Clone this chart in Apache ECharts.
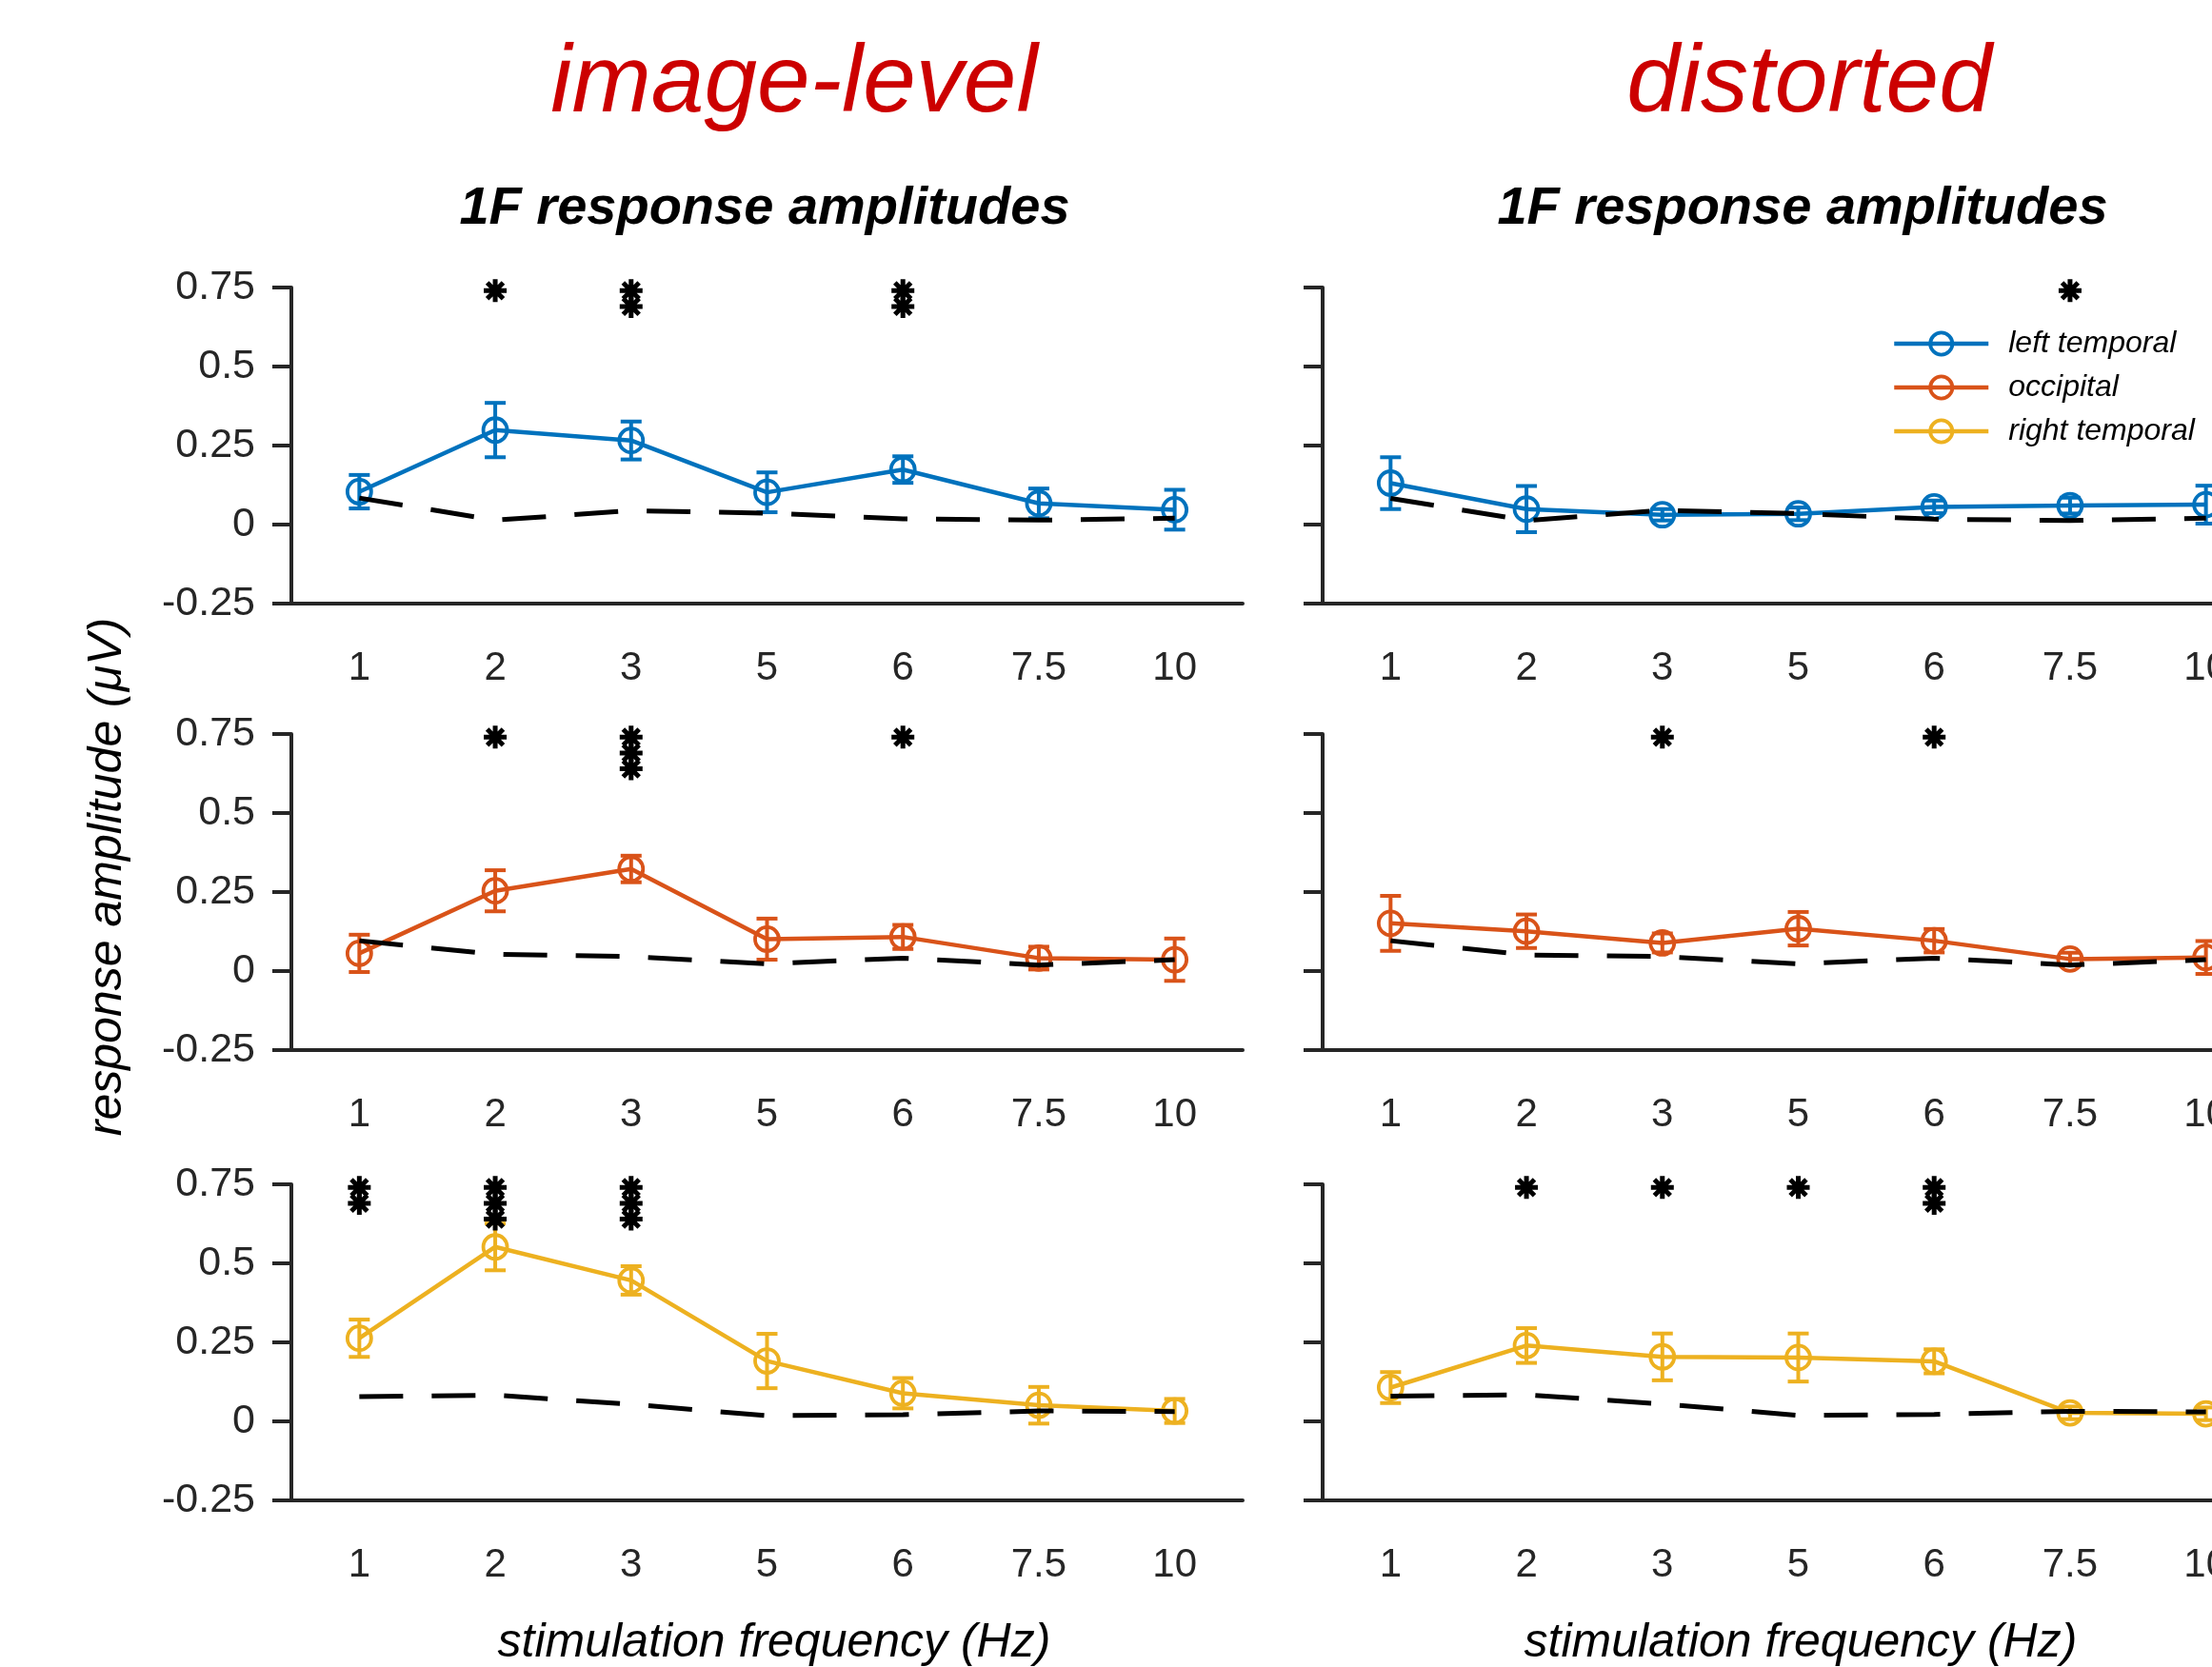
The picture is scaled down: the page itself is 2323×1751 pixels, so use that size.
<!DOCTYPE html>
<html><head><meta charset="utf-8">
<script src="https://cdn.jsdelivr.net/npm/echarts@6/dist/echarts.min.js"></script>
<style>html,body{margin:0;padding:0;background:#fff}#c{width:2323px;height:1751px}</style>
</head><body><div id="c"></div>
<script>
const categories = ['1','2','3','5','6','7.5','10'];
const regionNames = ['left temporal','occipital','right temporal'];
const columnTitles = ['image-level','distorted'];
const subTitle = '1F response amplitudes';
const xLabel = 'stimulation frequency (Hz)';
const yLabel = 'response amplitude (\u03bcV)';

// image-level
const imgLeftMean  = [0.104,0.299,0.266,0.102,0.174,0.067,0.047];
const imgLeftErr   = [0.053,0.086,0.060,0.063,0.042,0.047,0.063];
const imgLeftNoise = [0.084,0.014,0.044,0.036,0.018,0.014,0.020];
const imgLeftStars = [0,1,2,0,2,0,0];

const imgOccMean  = [0.056,0.254,0.323,0.101,0.108,0.041,0.036];
const imgOccErr   = [0.059,0.065,0.042,0.065,0.038,0.036,0.067];
const imgOccNoise = [0.096,0.053,0.046,0.023,0.041,0.019,0.036];
const imgOccStars = [0,1,3,0,1,0,0];

const imgRightMean  = [0.263,0.552,0.446,0.191,0.089,0.051,0.033];
const imgRightErr   = [0.059,0.074,0.045,0.086,0.048,0.058,0.038];
const imgRightNoise = [0.078,0.083,0.054,0.018,0.021,0.033,0.031];
const imgRightStars = [2,3,3,0,0,0,0];

// distorted
const disLeftMean  = [0.131,0.049,0.031,0.034,0.056,0.060,0.063];
const disLeftErr   = [0.082,0.073,0.018,0.020,0.020,0.025,0.060];
const disLeftNoise = [0.083,0.013,0.045,0.035,0.017,0.013,0.020];
const disLeftStars = [0,0,0,0,0,1,0];

const disOccMean  = [0.151,0.126,0.089,0.134,0.096,0.038,0.043];
const disOccErr   = [0.087,0.053,0.030,0.053,0.037,0.020,0.052];
const disOccNoise = [0.096,0.051,0.046,0.023,0.041,0.019,0.036];
const disOccStars = [0,0,1,0,1,0,0];

const disRightMean  = [0.107,0.240,0.204,0.202,0.190,0.027,0.024];
const disRightErr   = [0.049,0.055,0.074,0.076,0.038,0.020,0.020];
const disRightNoise = [0.080,0.084,0.055,0.019,0.022,0.032,0.030];
const disRightStars = [0,1,1,1,2,0,0];

const starTop = 0.74, starStep = 0.05;

const COLORS = ['#0072BD','#D95319','#EDB120'];
const AX = '#262626';
const FONT = 'Liberation Sans';

const panels = [
  {row:0,col:0,mean:imgLeftMean,err:imgLeftErr,noise:imgLeftNoise,stars:imgLeftStars},
  {row:1,col:0,mean:imgOccMean,err:imgOccErr,noise:imgOccNoise,stars:imgOccStars},
  {row:2,col:0,mean:imgRightMean,err:imgRightErr,noise:imgRightNoise,stars:imgRightStars},
  {row:0,col:1,mean:disLeftMean,err:disLeftErr,noise:disLeftNoise,stars:disLeftStars},
  {row:1,col:1,mean:disOccMean,err:disOccErr,noise:disOccNoise,stars:disOccStars},
  {row:2,col:1,mean:disRightMean,err:disRightErr,noise:disRightNoise,stars:disRightStars}
];

const gridLeft = [306, 1389];
const gridTop = [302, 771, 1244];
const gridW = 999, gridH = 332;

const grids = [], xAxes = [], yAxes = [], series = [];
const STAR = 'path://M10,0L10,20M0,10L20,10M3,3L17,17M3,17L17,3';

panels.forEach((p, g) => {
  const color = COLORS[p.row];
  grids.push({left: gridLeft[p.col], top: gridTop[p.row], width: gridW, height: gridH,
              containLabel:false, outerBoundsMode:'none'});
  xAxes.push({
    type:'category', gridIndex:g, data:categories, boundaryGap:true,
    axisLine:{onZero:false, lineStyle:{color:AX, width:4}},
    axisTick:{alignWithLabel:true, interval:0, length:20, lineStyle:{color:AX, width:4}},
    axisLabel:{interval:0, fontSize:42, color:AX, margin:47, fontFamily:FONT},
    splitLine:{show:false}
  });
  yAxes.push({
    type:'value', gridIndex:g, min:-0.25, max:0.75, interval:0.25,
    axisLine:{show:true, lineStyle:{color:AX, width:4}},
    axisTick:{show:true, length:20, lineStyle:{color:AX, width:4}},
    axisLabel:{show:p.col===0, fontSize:43, color:AX, margin:38, fontFamily:FONT},
    splitLine:{show:false}
  });
  // error bars
  series.push({
    type:'custom', xAxisIndex:g, yAxisIndex:g, z:3, silent:true,
    data: p.mean.map((m,i)=>[i, m - p.err[i], m + p.err[i]]),
    encode:{x:0, y:[1,2]},
    renderItem:(params, api)=>{
      const x = api.value(0);
      const a = api.coord([x, api.value(1)]);
      const b = api.coord([x, api.value(2)]);
      const w = 11, st = {stroke:color, lineWidth:4};
      return {type:'group', children:[
        {type:'line', shape:{x1:a[0],y1:a[1],x2:b[0],y2:b[1]}, style:st},
        {type:'line', shape:{x1:a[0]-w,y1:a[1],x2:a[0]+w,y2:a[1]}, style:st},
        {type:'line', shape:{x1:b[0]-w,y1:b[1],x2:b[0]+w,y2:b[1]}, style:st}
      ]};
    }
  });
  // mean line
  series.push({
    type:'line', name:regionNames[p.row], xAxisIndex:g, yAxisIndex:g, z:4,
    data:p.mean, symbol:'circle', symbolSize:25,
    itemStyle:{color:'rgba(255,255,255,0)', borderColor:color, borderWidth:3.8},
    lineStyle:{color:color, width:4.5}
  });
  // noise dashed line
  series.push({
    type:'line', name:'noise', xAxisIndex:g, yAxisIndex:g, z:5, silent:true,
    data:p.noise, symbol:'none',
    lineStyle:{color:'#000', width:5, type:[46,30]}
  });
  // significance stars
  const starData = [];
  p.stars.forEach((n,i)=>{ for(let k=0;k<n;k++) starData.push([i, starTop - starStep*k]); });
  series.push({
    type:'scatter', name:'sig', xAxisIndex:g, yAxisIndex:g, z:6, clip:false, silent:true,
    data:starData, symbol:STAR, symbolSize:[24,24],
    itemStyle:{color:'rgba(0,0,0,0)', borderColor:'#000', borderWidth:5, opacity:1}
  });
});

const graphics = [
  {type:'text', x:834, y:89, style:{text:columnTitles[0], font:'italic 100px "Liberation Sans"', fill:'#cc0000', align:'center', verticalAlign:'middle'}},
  {type:'text', x:1900, y:89, style:{text:columnTitles[1], font:'italic 100px "Liberation Sans"', fill:'#cc0000', align:'center', verticalAlign:'middle'}},
  {type:'text', x:803, y:220, style:{text:subTitle, font:'italic bold 56px "Liberation Sans"', fill:'#000', align:'center', verticalAlign:'middle'}},
  {type:'text', x:1893, y:220, style:{text:subTitle, font:'italic bold 56px "Liberation Sans"', fill:'#000', align:'center', verticalAlign:'middle'}},
  {type:'text', x:813, y:1726, style:{text:xLabel, font:'italic 50px "Liberation Sans"', fill:'#000', align:'center', verticalAlign:'middle'}},
  {type:'text', x:1891, y:1726, style:{text:xLabel, font:'italic 50px "Liberation Sans"', fill:'#000', align:'center', verticalAlign:'middle'}},
  {type:'text', x:113, y:921, rotation:Math.PI/2, style:{text:yLabel, font:'italic 50px "Liberation Sans"', fill:'#000', align:'center', verticalAlign:'middle'}}
];

const chart = echarts.init(document.getElementById('c'), null, {renderer:'canvas'});
chart.setOption({
  backgroundColor:'#fff',
  animation:false,
  grid:grids, xAxis:xAxes, yAxis:yAxes, series:series,
  graphic:graphics,
  legend:{
    data:regionNames, orient:'vertical', left:1982, top:340,
    itemWidth:99, itemHeight:29, itemGap:14,
    lineStyle:{width:4.5},
    itemStyle:{borderWidth:3.8},
    textStyle:{fontSize:32, fontStyle:'italic', color:'#000', fontFamily:FONT, padding:[0,0,0,16]}
  }
});
</script></body></html>
